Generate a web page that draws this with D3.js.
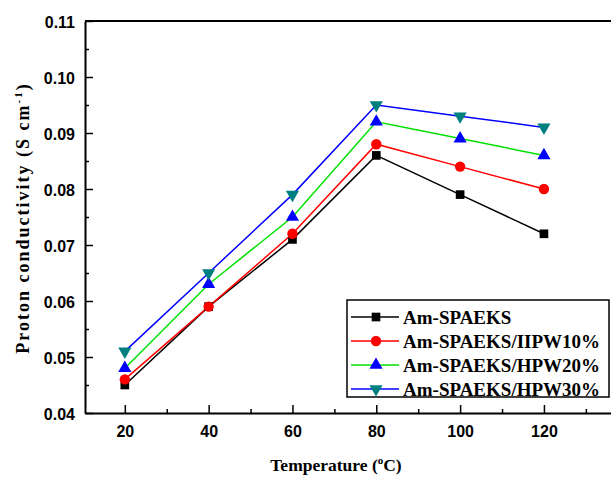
<!DOCTYPE html>
<html>
<head>
<meta charset="utf-8">
<script src="https://cdn.jsdelivr.net/npm/d3@7/dist/d3.min.js"></script>
<style>
  body { margin: 0; background: #fff; }
  svg { display: block; }
</style>
</head>
<body>
<svg id="chart" width="611" height="477"></svg>
<script>
// data
var temps = [20, 40, 60, 80, 100, 120];
var seriesNames = ["Am-SPAEKS", "Am-SPAEKS/IIPW10%", "Am-SPAEKS/HPW20%", "Am-SPAEKS/HPW30%"];
var amSpaeks = [0.045, 0.059, 0.071, 0.086, 0.079, 0.072];
var hpw10 = [0.046, 0.059, 0.072, 0.088, 0.084, 0.080];
var hpw20 = [0.048, 0.063, 0.075, 0.092, 0.089, 0.086];
var hpw30 = [0.051, 0.065, 0.079, 0.095, 0.093, 0.091];
var xTicks = [20, 40, 60, 80, 100, 120];
var yTicks = [0.04, 0.05, 0.06, 0.07, 0.08, 0.09, 0.10, 0.11];

var svg = d3.select("#chart");
var margin = { top: 21, left: 85, bottom: 413 };

var x = d3.scaleLinear().domain([10.5, 136]).range([margin.left, 611]);
var y = d3.scaleLinear().domain([0.04, 0.11]).range([margin.bottom, margin.top]);

var series = [
    { name: seriesNames[0], values: amSpaeks, line: "#000000", fill: "#000000", sym: d3.symbolSquare, size: 75, rot: 0 },
    { name: seriesNames[1], values: hpw10, line: "#ff0000", fill: "#ff0000", sym: d3.symbolCircle, size: 85, rot: 0 },
    { name: seriesNames[2], values: hpw20, line: "#00e000", fill: "#0000ff", sym: d3.symbolTriangle, size: 75, rot: 0 },
    { name: seriesNames[3], values: hpw30, line: "#0000ff", fill: "#007f7f", sym: d3.symbolTriangle, size: 75, rot: 180 }
];

// frame
var g = svg.append("g");
g.append("line").attr("x1", x(10.5)).attr("x2", 611).attr("y1", y(0.11)).attr("y2", y(0.11))
    .attr("stroke", "#000").attr("stroke-width", 2);

// axes with inward ticks
var xAxis = g.append("g").attr("transform", "translate(0," + y(0.04) + ")")
    .call(d3.axisBottom(x).tickValues(xTicks).tickSizeInner(-8).tickSizeOuter(0).tickPadding(13).tickFormat(d3.format("d")));
g.append("g").attr("transform", "translate(0," + y(0.04) + ")")
    .call(d3.axisBottom(x).tickValues(xTicks.map(function (d) { return d + 10; })).tickSize(-4).tickFormat(""))
    .select(".domain").remove();
var yAxis = g.append("g").attr("transform", "translate(" + x(10.5) + ",0)")
    .call(d3.axisLeft(y).tickValues(yTicks).tickSizeInner(-8).tickSizeOuter(0).tickPadding(10).tickFormat(d3.format(".2f")));
g.append("g").attr("transform", "translate(" + x(10.5) + ",0)")
    .call(d3.axisLeft(y).tickValues(yTicks.slice(0, -1).map(function (d) { return d + 0.005; })).tickSize(-4).tickFormat(""))
    .select(".domain").remove();

svg.selectAll(".domain").attr("stroke-width", 2);
svg.selectAll(".tick line").attr("stroke-width", 1.5);
svg.selectAll(".tick text")
    .attr("font-family", "Liberation Sans, Arial, sans-serif")
    .attr("font-weight", "bold")
    .attr("font-size", 16)
    .attr("fill", "#000");
yAxis.selectAll(".tick text").attr("dy", "0.4em");

// lines and markers
var line = d3.line()
    .x(function (d, i) { return x(temps[i]); })
    .y(function (d) { return y(d); });

series.forEach(function (s) {
    g.append("path").datum(s.values)
        .attr("d", line)
        .attr("fill", "none")
        .attr("stroke", s.line)
        .attr("stroke-width", 1.5);
});
series.forEach(function (s) {
    g.selectAll(null).data(s.values).enter().append("path")
        .attr("d", d3.symbol().type(s.sym).size(s.size))
        .attr("transform", function (d, i) { return "translate(" + x(temps[i]) + "," + y(d) + ") rotate(" + s.rot + ")"; })
        .attr("fill", s.fill);
});

// legend
var legend = svg.append("g").attr("transform", "translate(347,300)");
legend.append("rect").attr("width", 262).attr("height", 97)
    .attr("fill", "#fff").attr("stroke", "#000").attr("stroke-width", 1.5);
var items = legend.selectAll("g.item").data(series).enter().append("g")
    .attr("class", "item")
    .attr("transform", function (d, i) { return "translate(0," + (17 + i * 24) + ")"; });
items.append("line").attr("x1", 4).attr("x2", 52).attr("y1", 0).attr("y2", 0)
    .attr("stroke", function (d) { return d.line; }).attr("stroke-width", 1.5);
items.append("path")
    .attr("d", function (d) { return d3.symbol().type(d.sym).size(d.size)(); })
    .attr("transform", function (d) { return "translate(29,0) rotate(" + d.rot + ")"; })
    .attr("fill", function (d) { return d.fill; });
items.append("text").attr("x", 56).attr("y", 0).attr("dy", "0.35em")
    .attr("font-family", "Liberation Serif, Times New Roman, serif")
    .attr("font-weight", "bold")
    .attr("font-size", 19)
    .text(function (d) { return d.name; });

// axis titles
svg.append("text")
    .attr("x", 336).attr("y", 471)
    .attr("text-anchor", "middle")
    .attr("font-family", "Liberation Serif, Times New Roman, serif")
    .attr("font-weight", "bold")
    .attr("font-size", 17.5)
    .html('Temperature (<tspan dy="-7" font-size="11">o</tspan><tspan dy="7">C)</tspan>');

svg.append("text")
    .attr("transform", "translate(29,218) rotate(-90)")
    .attr("text-anchor", "middle")
    .attr("font-family", "Liberation Serif, Times New Roman, serif")
    .attr("font-weight", "bold")
    .attr("font-size", 18)
    .attr("letter-spacing", 2)
    .html('Proton conductivity (S cm<tspan dy="-7" font-size="11">-1</tspan><tspan dy="7">)</tspan>');
</script>
</body>
</html>
